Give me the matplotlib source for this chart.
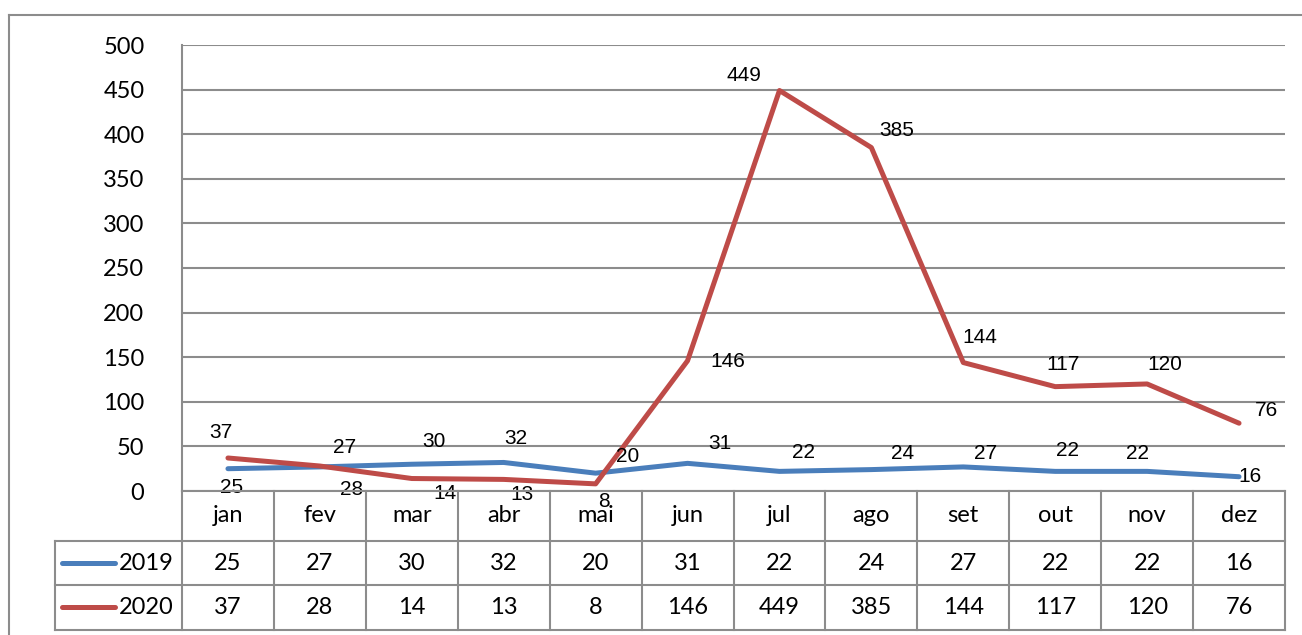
import matplotlib
matplotlib.use("Agg")
import matplotlib.pyplot as plt
from matplotlib.lines import Line2D
import matplotlib.transforms as mtransforms

months = ["jan", "fev", "mar", "abr", "mai", "jun", "jul", "ago", "set", "out", "nov", "dez"]
series_names = ["2019", "2020"]
values_2019 = [25, 27, 30, 32, 20, 31, 22, 24, 27, 22, 22, 16]
values_2020 = [37, 28, 14, 13, 8, 146, 449, 385, 144, 117, 120, 76]
y_ticks = [0, 50, 100, 150, 200, 250, 300, 350, 400, 450, 500]

# label offsets in pixels (dx right, dy down)
off_2019 = [(4, 19), (25, -19), (22, -23), (12, -24), (32, -17), (32, -20),
            (24, -19), (31, -16), (22, -13), (12, -21), (-10, -18), (11, 0)]
off_2020 = [(-7, -25), (32, 23), (33, 15), (18, 15), (8, 18), (40, 1),
            (-36, -15), (25, -17), (17, -25), (8, -22), (18, -19), (27, -13)]

C2019 = "#4a7ebb"
C2020 = "#be4b48"
GRID = "#8c8c8c"
W, H = 1302, 635
TICKFONT = "Lato"
LABFONT = "Liberation Sans"
FS = 17
LFS = 15

fig = plt.figure(figsize=(W / 100, H / 100), dpi=100)
L, R, T, B = 182, 1285, 45, 491
ax = fig.add_axes([L / W, 1 - B / H, (R - L) / W, (B - T) / H])

x = list(range(len(months)))
ax.plot(x, values_2019, color=C2019, lw=3.6, solid_capstyle="round", zorder=3)
ax.plot(x, values_2020, color=C2020, lw=3.6, solid_capstyle="round", zorder=4)

ax.set_xlim(-0.5, len(months) - 0.5)
ax.set_ylim(0, 500)
ax.set_yticks(y_ticks)
ax.set_yticklabels([str(t) for t in y_ticks], fontsize=FS, family=TICKFONT)
ax.tick_params(axis="y", length=0, pad=27)
ax.set_xticks([])
for s in ["top", "right", "bottom"]:
    ax.spines[s].set_visible(False)
ax.spines["left"].set_color(GRID)
ax.spines["left"].set_linewidth(1.5)
ax.yaxis.grid(True, color=GRID, lw=1.5)
ax.set_axisbelow(True)

for vals, offs in ((values_2019, off_2019), (values_2020, off_2020)):
    for i, v in enumerate(vals):
        ax.annotate(str(v), (i, v), xytext=(offs[i][0], -offs[i][1]),
                    textcoords="offset pixels", ha="center", va="center",
                    fontsize=LFS, family=LABFONT, zorder=6, annotation_clip=False)

# data table below the plot
trans = mtransforms.blended_transform_factory(ax.transData, fig.transFigure)
def fy(py):
    return 1 - py / H

row_tops = [491, 541, 585, 630]
lk = dict(color=GRID, lw=1.5, transform=fig.transFigure, clip_on=False)
fig.add_artist(Line2D([L / W, R / W], [fy(491)] * 2, **lk))
for py in row_tops[1:]:
    fig.add_artist(Line2D([55 / W, R / W], [fy(py)] * 2, **lk))
for k in range(len(months) + 1):
    xv = k - 0.5
    fig.add_artist(Line2D([xv, xv], [fy(491), fy(630)], color=GRID, lw=1.5,
                          transform=trans, clip_on=False))
fig.add_artist(Line2D([55 / W, 55 / W], [fy(541), fy(630)], **lk))

for i, m in enumerate(months):
    fig.text(i, fy(516), m, transform=trans, ha="center", va="center",
             fontsize=FS, family=TICKFONT)
    fig.text(i, fy(563), str(values_2019[i]), transform=trans, ha="center",
             va="center", fontsize=FS, family=TICKFONT)
    fig.text(i, fy(607), str(values_2020[i]), transform=trans, ha="center",
             va="center", fontsize=FS, family=TICKFONT)

for name, col, py in ((series_names[0], C2019, 563), (series_names[1], C2020, 607)):
    fig.add_artist(Line2D([62 / W, 115 / W], [fy(py)] * 2, color=col, lw=3.6,
                          solid_capstyle="round", transform=fig.transFigure))
    fig.text(119 / W, fy(py), name, ha="left", va="center", fontsize=FS,
             family=TICKFONT)

fig.add_artist(Line2D([9 / W, 1], [fy(15)] * 2, **lk))
fig.add_artist(Line2D([9 / W, 9 / W], [fy(15), 0], **lk))

fig.savefig("out.png", dpi=100)
